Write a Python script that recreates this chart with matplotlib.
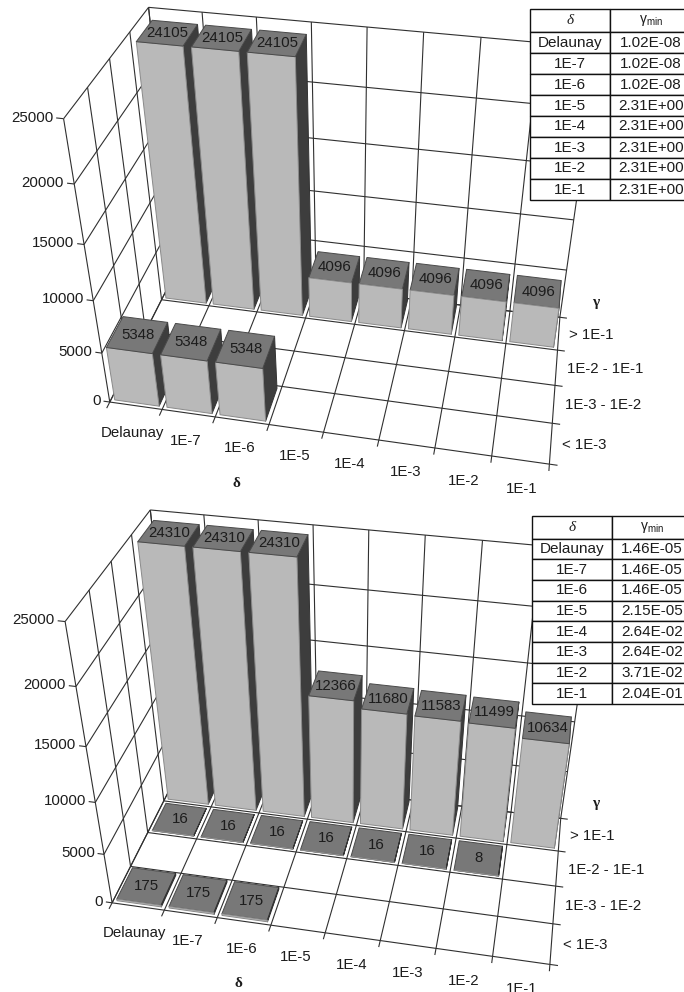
import numpy as np
import matplotlib
matplotlib.use("Agg")
import matplotlib.pyplot as plt
from matplotlib.table import Table
from mpl_toolkits.mplot3d.art3d import Line3DCollection

plt.rcParams['font.family'] = ['Liberation Sans', 'DejaVu Sans']

# ---- data ----
delta_labels = ['Delaunay', '1E-7', '1E-6', '1E-5', '1E-4', '1E-3', '1E-2', '1E-1']
gamma_labels = ['< 1E-3', '1E-3 - 1E-2', '1E-2 - 1E-1', '> 1E-1']
z_ticks = [0, 5000, 10000, 15000, 20000, 25000]

top_row0 = [5348, 5348, 5348, 0, 0, 0, 0, 0]
top_row1 = [0, 0, 0, 0, 0, 0, 0, 0]
top_row2 = [0, 0, 0, 0, 0, 0, 0, 0]
top_row3 = [24105, 24105, 24105, 4096, 4096, 4096, 4096, 4096]
top_gmin = ['1.02E-08', '1.02E-08', '1.02E-08', '2.31E+00', '2.31E+00', '2.31E+00', '2.31E+00', '2.31E+00']

bot_row0 = [175, 175, 175, 0, 0, 0, 0, 0]
bot_row1 = [0, 0, 0, 0, 0, 0, 0, 0]
bot_row2 = [16, 16, 16, 16, 16, 16, 8, 0]
bot_row3 = [24310, 24310, 24310, 12366, 11680, 11583, 11499, 10634]
bot_gmin = ['1.46E-05', '1.46E-05', '1.46E-05', '2.15E-05', '2.64E-02', '2.64E-02', '3.71E-02', '2.04E-01']

# ---- camera calibration: (delta, gamma, value) -> picture pixel ----
cal_world = [(0, 0, 0), (8, 0, 0), (8, 4, 0), (0, 4, 0), (0, 0, 25000), (0, 4, 25000), (8, 4, 25000),
             (0, 0, 10000), (8, 4, 10000), (4, 0, 0), (8, 2, 0), (0, 2, 0)]
cal_top = [(110, 403), (550, 463), (560, 318), (178, 268), (65, 118), (147, 8), (599, 48),
           (93, 300), (573, 220), (322, 433), (555, 385), (145, 333)]
cal_bot = [(112, 903), (550, 963), (561, 819), (180, 769), (66, 620), (149, 511), (600, 551),
           (96, 803), (574, 722), (324, 934), (556, 886), (147, 834)]

FRONT, TOPC, SIDE = '#b9b9b9', '#787878', '#3d3d3d'
LINE = '#303030'
TXT = '#1c1c1c'
FS = 10.8


def camera(world, pix):
    rows, rhs = [], []
    for (X, Y, Z), (u, v) in zip(world, pix):
        Z = Z / 5000.0
        rows.append([X, Y, Z, 1, 0, 0, 0, 0, -u * X, -u * Y, -u * Z]); rhs.append(u)
        rows.append([0, 0, 0, 0, X, Y, Z, 1, -v * X, -v * Y, -v * Z]); rhs.append(v)
    p = np.linalg.lstsq(np.array(rows, float), np.array(rhs, float), rcond=None)[0]
    P = np.append(p, 1.0).reshape(3, 4)
    P[:, 2] /= 5000.0
    return np.array([P[0], P[1], [0, 0, 0, -1.0], P[2]])


def chart(fig, rows, cal):
    ax = fig.add_axes([0, 0, 1, 1], projection='3d')
    M = camera(cal_world, cal)
    ax.set_xticks([])
    ax.set_yticks([])
    ax.set_zticks([])
    ax.get_proj = lambda: M
    ax.apply_aspect = lambda position=None: None
    ax.viewLim.intervalx = (0, 684)
    ax.viewLim.intervaly = (992, 0)
    ax.set_axis_off()
    ax.patch.set_visible(False)
    ax.computed_zorder = False

    nx, ny, zmax = len(delta_labels), len(gamma_labels), z_ticks[-1]
    segs = []
    # walls and floor
    for z in z_ticks:
        segs.append([(0, ny, z), (nx, ny, z)])
        segs.append([(0, 0, z), (0, ny, z)])
        segs.append([(-0.12, 0, z), (0, 0, z)])
        ax.text(-0.17, 0, z, str(z), ha='right', va='center', fontsize=FS, color=TXT, zorder=3)
    for i in range(nx + 1):
        segs.append([(i, ny, 0), (i, ny, zmax)])
        segs.append([(i, 0, 0), (i, ny, 0)])
        segs.append([(i, -0.16, 0), (i, 0, 0)])
    for j in range(ny + 1):
        segs.append([(0, j, 0), (0, j, zmax)])
        segs.append([(0, j, 0), (nx, j, 0)])
        segs.append([(nx, j, 0), (nx + 0.14, j, 0)])
    ax.add_collection3d(Line3DCollection(segs, colors=LINE, linewidths=0.8, zorder=1))
    # axis labels
    for i, s in enumerate(delta_labels):
        ax.text(i + 0.56 + 0.1 * (nx - 1 - i) / (nx - 1), -0.66, 0, s, ha='center', va='center',
                fontsize=FS, color=TXT, zorder=3)
    for j, s in enumerate(gamma_labels):
        ax.text(nx + 0.2, j + 0.5, 0, s, ha='left', va='center', fontsize=FS, color=TXT, zorder=3)
    ax.text(2.8, -1.45, 0, 'δ', ha='center', va='center', fontsize=11, color=TXT, zorder=3,
            family='Liberation Serif', fontweight='bold')
    ax.text(nx + 0.69, ny + 0.6, 0, 'γ', ha='center', va='center', fontsize=11, color=TXT, zorder=3,
            family='Liberation Serif', fontweight='bold')

    # bars, back row first, left to right
    clear = (0, 0, 0, 0)
    faces = [clear, TOPC, FRONT, clear, clear, SIDE]
    faces = [matplotlib.colors.to_rgba(c) for c in faces]
    edges = [clear, '#4a4a4a', '#8a8a8a', clear, clear, '#333333']
    edges = [matplotlib.colors.to_rgba(c) for c in edges]
    zo = 10
    for j in range(ny - 1, -1, -1):
        for i in range(nx):
            h = rows[j][i]
            if not h:
                continue
            ax.bar3d(i + 0.07, j + 0.07, 0, 0.85, 0.86, h, color=faces, edgecolors=edges,
                     linewidths=0.7, shade=False, zorder=zo)
            ax.text(i + 0.5, j + 0.5, h, str(h), ha='center', va='center', fontsize=FS,
                    color=TXT, zorder=zo + 0.5)
            zo += 1
    return ax


def gamma_table(fig, gmins, left, top, bottom):
    right, div = 692, left + 80
    ax = fig.add_axes([left / 684, 1 - bottom / 992, (right - left) / 684, (bottom - top) / 992], zorder=50)
    ax.set_xticks([])
    ax.set_yticks([])
    ax.set_axis_off()
    tb = Table(ax, bbox=[0, 0, 1, 1])
    w0, w1 = div - left, right - div
    n = len(delta_labels)
    hdr = tb.add_cell(0, 0, w0, 23, text='δ', loc='center', facecolor='white')
    hdr.get_text().set(family='Liberation Serif', style='italic')
    h2 = tb.add_cell(0, 1, w1, 23, text=r'$\mathregular{\gamma_{min}}$', loc='center', facecolor='white')
    for r in range(n):
        tb.add_cell(r + 1, 0, w0, 21, text=delta_labels[r], loc='center', facecolor='white')
        tb.add_cell(r + 1, 1, w1, 21, text=gmins[r], loc='center', facecolor='white')
    tb.auto_set_font_size(False)
    tb.set_fontsize(11)
    h2.get_text().set_fontsize(10)
    for c in tb.get_celld().values():
        c.set_linewidth(1.0)
        c.set_edgecolor('#111111')
        c.get_text().set_color(TXT)
    ax.add_table(tb)


fig = plt.figure(figsize=(6.84, 9.92), dpi=100, facecolor='white')
chart(fig, [top_row0, top_row1, top_row2, top_row3], cal_top)
chart(fig, [bot_row0, bot_row1, bot_row2, bot_row3], cal_bot)
gamma_table(fig, top_gmin, 530, 9, 200)
gamma_table(fig, bot_gmin, 532, 516, 704)
fig.savefig('out.png', dpi=100)
